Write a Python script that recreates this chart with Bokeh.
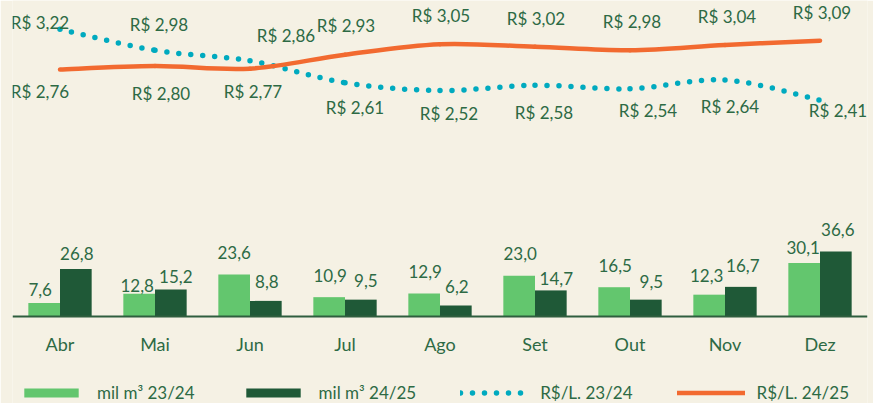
from bokeh.plotting import figure
from bokeh.models import ColumnDataSource, FactorRange, Range1d, LabelSet, Legend, LegendItem
from bokeh.transform import dodge
from bokeh.core.properties import value
from bokeh.embed import file_html
from bokeh.resources import INLINE

# ---------------- data ----------------
months = ["Abr", "Mai", "Jun", "Jul", "Ago", "Set", "Out", "Nov", "Dez"]
vol_2324 = [7.6, 12.8, 23.6, 10.9, 12.9, 23.0, 16.5, 12.3, 30.1]
vol_2425 = [26.8, 15.2, 8.8, 9.5, 6.2, 14.7, 9.5, 16.7, 36.6]
price_2324 = [3.22, 2.98, 2.86, 2.61, 2.52, 2.58, 2.54, 2.64, 2.41]
price_2425 = [2.76, 2.80, 2.77, 2.93, 3.05, 3.02, 2.98, 3.04, 3.09]
legend_labels = ["mil m³ 23/24", "mil m³ 24/25", "R$/L. 23/24", "R$/L. 24/25"]

# ---------------- label placement (screen px offsets, styling) ----------------
lbl_dx_2324 = [-4, -2, 0, 1, 1, 1, 1, -2.5, -1]
lbl_up_2324 = [13.5, 8.7, 21.7, 22, 22, 22, 22, 19, 15.7]
lbl_dx_2425 = [1, 5, 1, 5, 1, 5.5, 5.5, 2, 2]
lbl_up_2425 = [15.4, 13, 19.5, 19, 18.7, 11.7, 18.5, 21.7, 22.3]
plbl_dx_2324 = [-20, 4, 36, 10, 9, 9, 18, 5, 18]
plbl_up_2324 = [7, 26, 25, -25, -23, -27, -22, -26.5, -10.5]
plbl_dx_2425 = [-20, 6, 3, 1, 1, 1, 2, 2, 2]
plbl_up_2425 = [-22, -27.5, -23, 29, 28.6, 28, 29, 28.5, 28]

BG = "#f5f1e4"
TXT = "#2d6a44"
LIGHT = "#63c66e"
DARK = "#1f5937"
TEAL = "#00aabf"
ORANGE = "#f26a30"
FONT = "Lato"

def fmt1(v):
    return f"{v:.1f}".replace(".", ",")

def fmtp(v):
    return "R$ " + f"{v:.2f}".replace(".", ",")

src = ColumnDataSource(dict(
    month=months, v1=vol_2324, v2=vol_2425, p1=price_2324, p2=price_2425,
    t1=[fmt1(v) for v in vol_2324], t2=[fmt1(v) for v in vol_2425],
    tp1=[fmtp(v) for v in price_2324], tp2=[fmtp(v) for v in price_2425],
    dx1=lbl_dx_2324, up1=lbl_up_2324, dx2=lbl_dx_2425, up2=lbl_up_2425,
    pdx1=plbl_dx_2324, pup1=plbl_up_2324, pdx2=plbl_dx_2425, pup2=plbl_up_2425,
))

p = figure(
    x_range=FactorRange(factors=months, range_padding=0),
    y_range=Range1d(-49, 178),
    frame_width=855, frame_height=403,
    min_border_left=12, min_border_right=6, min_border_top=0, min_border_bottom=0,
    output_backend="svg", toolbar_location=None,
    background_fill_color=BG, border_fill_color=BG,
)
p.extra_y_ranges = {"price": Range1d(-1.057, 3.549)}
p.outline_line_color = None
p.grid.visible = False
p.yaxis.visible = False

# bars
r1 = p.vbar(x=dodge("month", -1/6, range=p.x_range), top="v1", width=1/3, source=src,
            fill_color=LIGHT, line_color=None)
r2 = p.vbar(x=dodge("month", 1/6, range=p.x_range), top="v2", width=1/3, source=src,
            fill_color=DARK, line_color=None)

# smoothed price lines (cubic bezier segments through the data points)
def bezier_src(vals):
    n = len(vals)
    xs = [i + 0.5 for i in range(n)]
    d = dict(x0=[], y0=[], x1=[], y1=[], cx0=[], cy0=[], cx1=[], cy1=[])
    for i in range(n - 1):
        xm, ym = (xs[i - 1], vals[i - 1]) if i > 0 else (xs[i], vals[i])
        xp, yp = (xs[i + 2], vals[i + 2]) if i + 2 < n else (xs[i + 1], vals[i + 1])
        d["x0"].append(xs[i]); d["y0"].append(vals[i])
        d["x1"].append(xs[i + 1]); d["y1"].append(vals[i + 1])
        d["cx0"].append(xs[i] + (xs[i + 1] - xm) / 6)
        d["cy0"].append(vals[i] + (vals[i + 1] - ym) / 6)
        d["cx1"].append(xs[i + 1] - (xp - xs[i]) / 6)
        d["cy1"].append(vals[i + 1] - (yp - vals[i]) / 6)
    return ColumnDataSource(d)

r3 = p.bezier(x0="x0", y0="y0", x1="x1", y1="y1", cx0="cx0", cy0="cy0", cx1="cx1", cy1="cy1",
              source=bezier_src(price_2324), y_range_name="price",
              line_color=TEAL, line_width=5.5, line_dash="0 12", line_cap="round")
r4 = p.bezier(x0="x0", y0="y0", x1="x1", y1="y1", cx0="cx0", cy0="cy0", cx1="cx1", cy1="cy1",
              source=bezier_src(price_2425), y_range_name="price",
              line_color=ORANGE, line_width=4.5, line_cap="round", line_join="round")

# labels
common = dict(source=src, text_color=TXT, text_font=value(FONT), text_font_size="17px",
              text_align="center", text_baseline="middle")
p.add_layout(LabelSet(x=dodge("month", -1/6, range=p.x_range), y="v1", text="t1",
                      x_offset="dx1", y_offset="up1", **common))
p.add_layout(LabelSet(x=dodge("month", 1/6, range=p.x_range), y="v2", text="t2",
                      x_offset="dx2", y_offset="up2", **common))
p.add_layout(LabelSet(x="month", y="p1", text="tp1", y_range_name="price",
                      x_offset="pdx1", y_offset="pup1", **common))
p.add_layout(LabelSet(x="month", y="p2", text="tp2", y_range_name="price",
                      x_offset="pdx2", y_offset="pup2", **common))

# x axis, drawn at the bars' zero line
ax = p.xaxis[0]
ax.fixed_location = 0
ax.axis_line_color = "#2f5e3e"
ax.axis_line_width = 2
ax.major_tick_line_color = None
ax.minor_tick_line_color = None
ax.major_tick_out = 0
ax.major_label_standoff = 16
ax.major_label_text_color = TXT
ax.major_label_text_font = FONT
ax.major_label_text_font_size = "18px"

# legend
legend = Legend(
    items=[LegendItem(label=legend_labels[0], renderers=[r1]),
           LegendItem(label=legend_labels[1], renderers=[r2]),
           LegendItem(label=legend_labels[2], renderers=[r3]),
           LegendItem(label=legend_labels[3], renderers=[r4])],
    orientation="horizontal", location=(5, 0),
    glyph_width=68, glyph_height=11, label_standoff=12, spacing=44,
    padding=0, margin=0, background_fill_alpha=0, border_line_alpha=0,
    label_text_color=TXT, label_text_font=FONT, label_text_font_size="17px",
)
p.add_layout(legend)

open("out.html", "w").write(file_html(p, INLINE))
